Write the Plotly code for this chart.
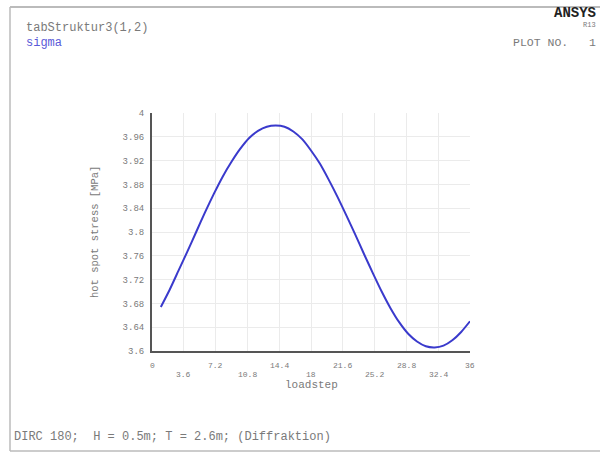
import plotly.graph_objects as go

# data
loadstep = list(range(1, 37))
stress = [3.674, 3.703, 3.735, 3.767, 3.800, 3.833, 3.864, 3.893, 3.918, 3.940,
          3.958, 3.970, 3.977, 3.979, 3.977, 3.969, 3.956, 3.937, 3.915, 3.888,
          3.859, 3.828, 3.796, 3.763, 3.731, 3.700, 3.672, 3.648, 3.629, 3.616,
          3.608, 3.606, 3.609, 3.618, 3.632, 3.650]

x_ticks = [0, 3.6, 7.2, 10.8, 14.4, 18, 21.6, 25.2, 28.8, 32.4, 36]
x_tick_labels = ["0", "3.6", "7.2", "10.8", "14.4", "18", "21.6", "25.2", "28.8", "32.4", "36"]
y_ticks = [3.6, 3.64, 3.68, 3.72, 3.76, 3.8, 3.84, 3.88, 3.92, 3.96, 4.0]
y_tick_labels = ["3.6", "3.64", "3.68", "3.72", "3.76", "3.8", "3.84", "3.88", "3.92", "3.96", "4"]

W, H = 600, 459
L, R, T, B = 152, 470, 113, 351


def px(x):
    return (x - L) / (R - L)


def py(y):
    return (B - y) / (B - T)


FONT = "Liberation Mono"
GRAY = "#7a7a7a"

fig = go.Figure()
fig.add_trace(go.Scatter(x=loadstep, y=stress, mode="lines",
                         line=dict(color="#3a3acc", width=2, shape="spline", smoothing=0.6),
                         showlegend=False))

fig.update_layout(
    width=W, height=H, autosize=False,
    margin=dict(l=L, r=W - R, t=T, b=H - B),
    paper_bgcolor="white", plot_bgcolor="white",
    xaxis=dict(range=[0, 36], tickvals=x_ticks, showticklabels=False,
               showgrid=True, gridcolor="#ebebeb", gridwidth=1, zeroline=False,
               showline=True, linecolor="#555555", linewidth=2, ticks=""),
    yaxis=dict(range=[3.6, 4.0], tickvals=y_ticks, ticktext=y_tick_labels,
               tickfont=dict(family=FONT, size=9, color=GRAY),
               showgrid=True, gridcolor="#ebebeb", gridwidth=1, zeroline=False,
               showline=True, linecolor="#555555", linewidth=2, ticks="",
               ticklabelstandoff=4),
)

ann = []
for i, (v, t) in enumerate(zip(x_ticks, x_tick_labels)):
    ann.append(dict(x=v, y=py(365 if i % 2 == 0 else 374), xref="x", yref="paper",
                    text=t, showarrow=False, font=dict(family=FONT, size=8, color=GRAY),
                    xanchor="center", yanchor="middle"))
ann.append(dict(x=px(311), y=py(385), xref="paper", yref="paper", text="loadstep",
                showarrow=False, font=dict(family=FONT, size=11, color=GRAY),
                xanchor="center", yanchor="middle"))
ann.append(dict(x=px(95), y=py(232), xref="paper", yref="paper", text="hot spot stress [MPa]",
                showarrow=False, textangle=-90, font=dict(family=FONT, size=10.5, color=GRAY),
                xanchor="center", yanchor="middle"))
ann.append(dict(x=px(24), y=py(28), xref="paper", yref="paper", text="tabStruktur3(1,2)",
                showarrow=False, font=dict(family=FONT, size=12, color=GRAY),
                xanchor="left", yanchor="middle"))
ann.append(dict(x=px(24), y=py(43), xref="paper", yref="paper", text="sigma",
                showarrow=False, font=dict(family=FONT, size=12, color="#5a5ad8"),
                xanchor="left", yanchor="middle"))
ann.append(dict(x=px(598), y=py(13), xref="paper", yref="paper", text="<b>ANSYS</b>",
                showarrow=False, font=dict(family=FONT, size=14, color="#222222"),
                xanchor="right", yanchor="middle"))
ann.append(dict(x=px(598), y=py(25), xref="paper", yref="paper", text="R13",
                showarrow=False, font=dict(family=FONT, size=7, color=GRAY),
                xanchor="right", yanchor="middle"))
ann.append(dict(x=px(598), y=py(43), xref="paper", yref="paper", text="PLOT NO.   1",
                showarrow=False, font=dict(family=FONT, size=11.5, color=GRAY),
                xanchor="right", yanchor="middle"))
ann.append(dict(x=px(12), y=py(437), xref="paper", yref="paper",
                text="DIRC 180;  H = 0.5m; T = 2.6m; (Diffraktion)",
                showarrow=False, font=dict(family=FONT, size=12, color=GRAY),
                xanchor="left", yanchor="middle"))
fig.update_layout(annotations=ann)

shapes = [
    dict(type="line", xref="paper", yref="paper", x0=px(10), x1=px(600), y0=py(7), y1=py(7),
         line=dict(color="#bbbbbb", width=2)),
    dict(type="line", xref="paper", yref="paper", x0=px(10), x1=px(10), y0=py(7), y1=py(451),
         line=dict(color="#bbbbbb", width=1.5)),
    dict(type="line", xref="paper", yref="paper", x0=px(10), x1=px(600), y0=py(451), y1=py(451),
         line=dict(color="#bbbbbb", width=1.5)),
]
fig.update_layout(shapes=shapes)

fig.write_html("out.html")
